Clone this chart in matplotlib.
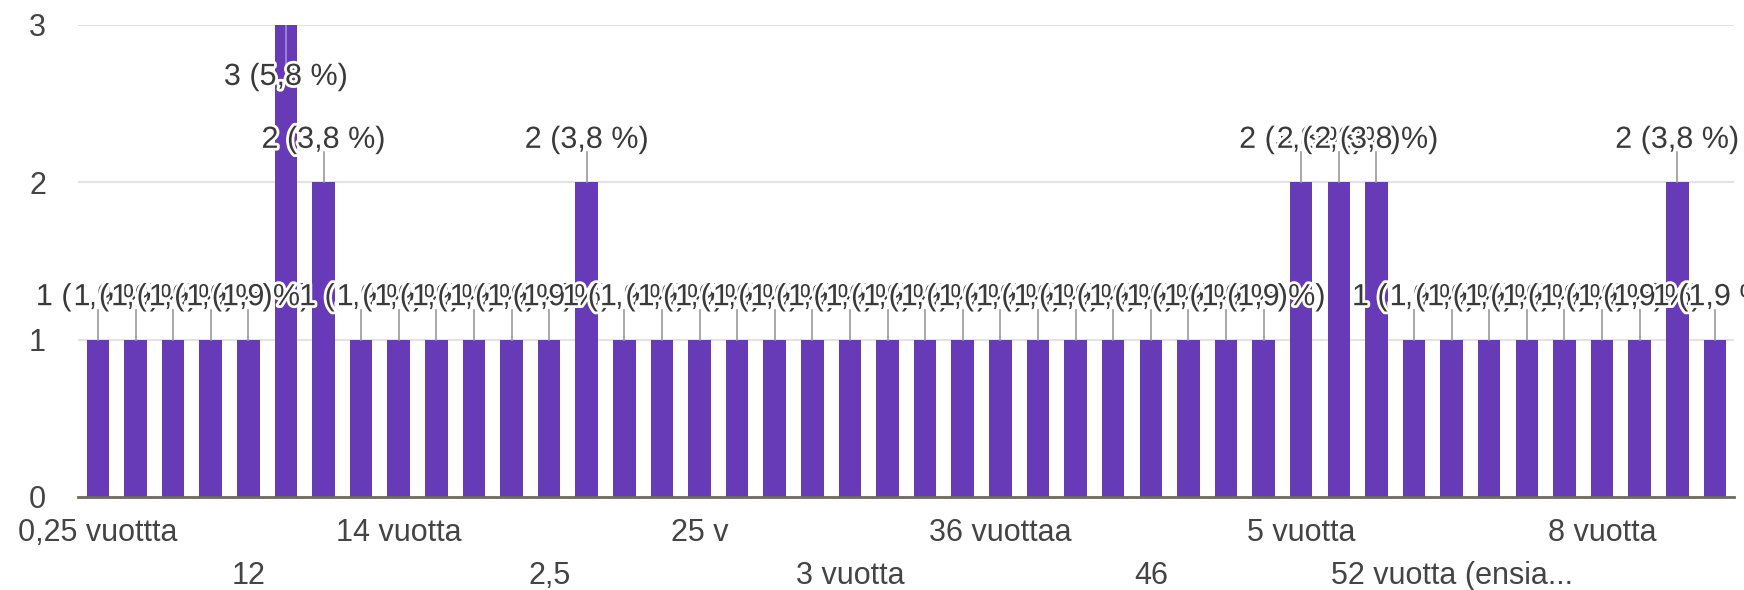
import matplotlib
matplotlib.use('Agg')
import matplotlib.pyplot as plt
import matplotlib.patheffects as pe

plt.rcParams.update({
    'font.family': ['Liberation Sans', 'DejaVu Sans'],
    'axes.spines.top': False,
    'axes.spines.right': False,
    'axes.spines.left': False,
})

# Vastausten määrä per vaihtoehto (44 palkkia)
counts = [1, 1, 1, 1, 1, 3, 2, 1, 1, 1, 1, 1, 1, 2, 1, 1, 1, 1, 1, 1, 1, 1,
          1, 1, 1, 1, 1, 1, 1, 1, 1, 1, 2, 2, 2, 1, 1, 1, 1, 1, 1, 1, 2, 1]

# Näkyvät x-akselin nimikkeet (joka neljäs palkki)
tick_idx = [0, 4, 8, 12, 16, 20, 24, 28, 32, 36, 40]
tick_labels = ["0,25 vuottta", "12", "14 vuotta", "2,5", "25 v", "3 vuotta",
               "36 vuottaa", "46", "5 vuotta", "52 vuotta (ensia...", "8 vuotta"]

y_ticks = [0, 1, 2, 3]

BAR = "#673ab7"
TXT = "#3a3a3a"

total = sum(counts)
x = list(range(len(counts)))

fig = plt.figure(figsize=(17.44, 5.90), dpi=100)
ax = fig.add_axes([78/1744, 93/590, 1656/1744, 472/590])

ax.bar(x, counts, width=0.6, color=BAR, zorder=2)

ax.set_xlim(-0.53, len(counts) - 0.49)
ax.set_ylim(0, 3)
ax.set_yticks(y_ticks)
ax.set_yticklabels([str(t) for t in y_ticks], fontsize=22, color="#444444")
ax.tick_params(axis='y', length=0, pad=23)
ax.set_xticks([])
ax.grid(axis='y', color='#e3e3e3', lw=1.5, zorder=0)
ax.spines['bottom'].set_color('#6b6b60')
ax.spines['bottom'].set_linewidth(2)
ax.spines['bottom'].set_zorder(3)

# kaksi riviä x-nimikkeitä vuorotellen
xform = ax.get_xaxis_transform()
for k, (i, lab) in enumerate(zip(tick_idx, tick_labels)):
    yy = -0.077 if k % 2 == 0 else -0.168
    ax.text(i, yy, lab, transform=xform, ha='center', va='center',
            fontsize=22, color="#444444")

# arvotarrat (menevät päällekkäin kuten alkuperäisessä)
halo = [pe.withStroke(linewidth=4, foreground='white')]
ymax = ax.get_ylim()[1]
for i, c in enumerate(counts):
    pct = f"{c / total * 100:.1f}".replace('.', ',')
    ly = min(c + 0.27, ymax - 0.33)
    if ly > c:
        ax.plot([i, i], [c, c + 0.19], color='#9a9a9a', lw=1.2, zorder=2.5)
    else:
        ax.plot([i, i], [ly + 0.08, c], color='#a08fd0', lw=1.2, zorder=2.5)
    ax.text(i, ly, f"{c} ({pct} %)", ha='center', va='center', fontsize=22,
            color=TXT, path_effects=halo, zorder=4, clip_on=False)

fig.savefig("out.png", dpi=100)
plt.close(fig)
